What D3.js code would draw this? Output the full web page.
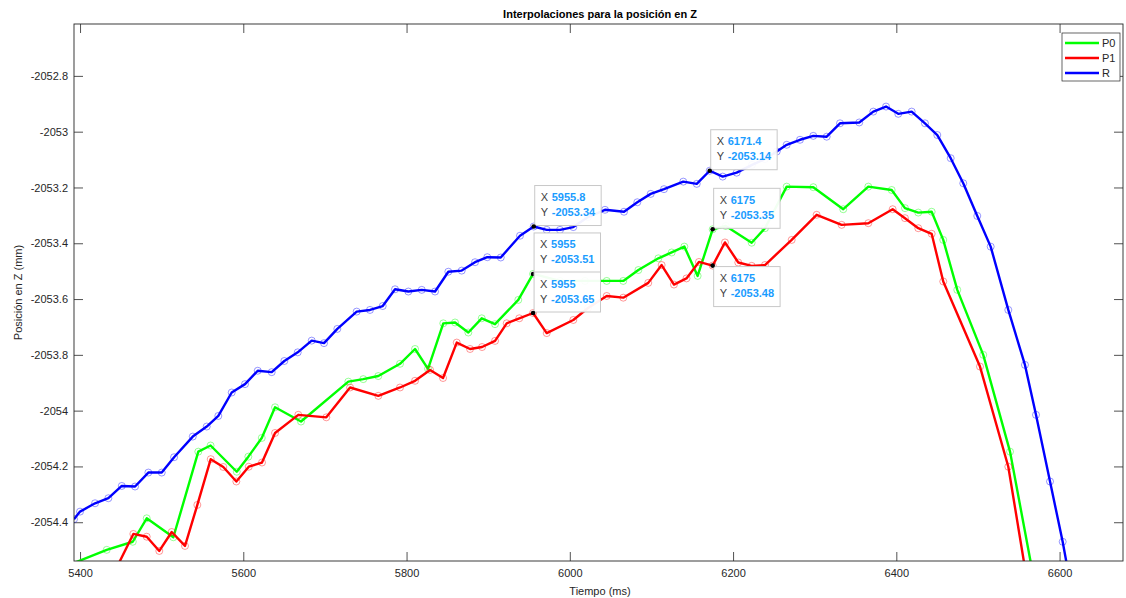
<!DOCTYPE html>
<html>
<head>
<meta charset="utf-8">
<script src="https://cdn.jsdelivr.net/npm/d3@7"></script>
<style>
  html, body { margin: 0; padding: 0; background: #fff; }
  svg { display: block; font-family: "Liberation Sans", Arial, Helvetica, sans-serif; }
</style>
</head>
<body>
<svg id="chart" width="1126" height="598"></svg>
<script>
// ---------------- data ----------------
const titleText = "Interpolaciones para la posición en Z";
const xLabelText = "Tiempo (ms)";
const yLabelText = "Posición en Z (mm)";

const xTicks = [5400, 5600, 5800, 6000, 6200, 6400, 6600];
const xTickLabels = ["5400", "5600", "5800", "6000", "6200", "6400", "6600"];
const yTicks = [-2054.4, -2054.2, -2054, -2053.8, -2053.6, -2053.4, -2053.2, -2053, -2052.8];
const yTickLabels = ["-2054.4", "-2054.2", "-2054", "-2053.8", "-2053.6", "-2053.4", "-2053.2", "-2053", "-2052.8"];

const xDomain = [5392.6, 6677.7];
const yDomain = [-2054.539, -2052.614];

const seriesNames = ["P0", "P1", "R"];

// P0 (green): [tiempo, z]
const seriesP0 = [
  [5375.5,-2054.566],[5432.7,-2054.499],[5464.6,-2054.470],[5481.7,-2054.386],[5514.3,-2054.454],
  [5544.9,-2054.147],[5559.9,-2054.125],[5592.0,-2054.219],[5606.2,-2054.165],[5622.6,-2054.098],
  [5638.9,-2053.988],[5670.7,-2054.039],[5728.7,-2053.896],[5747.0,-2053.887],[5765.4,-2053.876],
  [5792.0,-2053.832],[5810.4,-2053.779],[5826.3,-2053.850],[5845.0,-2053.687],[5859.4,-2053.684],
  [5875.7,-2053.720],[5892.1,-2053.669],[5908.4,-2053.690],[5936.9,-2053.603],[5955.0,-2053.510],
  [5988.0,-2053.535],[6018.6,-2053.535],[6045.2,-2053.535],[6065.5,-2053.535],[6084.0,-2053.496],
  [6108.5,-2053.454],[6124.8,-2053.433],[6140.3,-2053.412],[6156.6,-2053.517],[6175.0,-2053.350],
  [6191.0,-2053.338],[6222.8,-2053.398],[6239.1,-2053.346],[6265.7,-2053.197],[6298.3,-2053.199],
  [6335.0,-2053.278],[6365.7,-2053.197],[6394.3,-2053.209],[6410.6,-2053.274],[6426.9,-2053.290],
  [6443.3,-2053.287],[6457.5,-2053.388],[6474.7,-2053.567],[6506.5,-2053.800],[6539.3,-2054.147],
  [6568.7,-2054.607]
];

// P1 (red)
const seriesP1 = [
  [5439.2,-2054.596],[5465.3,-2054.442],[5481.7,-2054.452],[5497.1,-2054.503],[5512.3,-2054.435],
  [5528.6,-2054.485],[5543.7,-2054.338],[5560.1,-2054.174],[5575.5,-2054.202],[5591.5,-2054.254],
  [5606.7,-2054.201],[5622.9,-2054.186],[5638.9,-2054.080],[5667.4,-2054.015],[5701.7,-2054.024],
  [5730.8,-2053.917],[5765.4,-2053.947],[5792.0,-2053.917],[5810.4,-2053.893],[5828.8,-2053.854],
  [5844.7,-2053.883],[5861.5,-2053.756],[5877.8,-2053.779],[5892.5,-2053.772],[5908.4,-2053.750],
  [5922.7,-2053.687],[5938.1,-2053.669],[5955.0,-2053.650],[5971.7,-2053.722],[6004.3,-2053.675],
  [6022.3,-2053.632],[6045.2,-2053.589],[6065.5,-2053.595],[6096.1,-2053.542],[6112.5,-2053.478],
  [6127.6,-2053.548],[6142.9,-2053.526],[6158.2,-2053.467],[6175.0,-2053.480],[6190.1,-2053.397],
  [6206.4,-2053.469],[6222.8,-2053.481],[6239.1,-2053.478],[6271.8,-2053.388],[6302.4,-2053.298],
  [6333.0,-2053.334],[6365.7,-2053.328],[6395.5,-2053.278],[6410.6,-2053.310],[6426.9,-2053.346],
  [6443.3,-2053.366],[6457.5,-2053.537],[6502.5,-2053.842],[6537.2,-2054.201],[6560.0,-2054.607]
];

// R (blue)
const seriesR = [
  [5392.6,-2054.389],[5400.0,-2054.362],[5418.4,-2054.332],[5434.7,-2054.314],[5451.1,-2054.270],
  [5467.4,-2054.272],[5483.7,-2054.222],[5500.1,-2054.222],[5515.2,-2054.167],[5538.1,-2054.093],
  [5555.2,-2054.057],[5569.4,-2054.019],[5585.8,-2053.935],[5602.1,-2053.905],[5617.7,-2053.857],
  [5634.8,-2053.862],[5650.3,-2053.822],[5666.7,-2053.791],[5683.8,-2053.749],[5698.9,-2053.758],
  [5715.2,-2053.707],[5738.9,-2053.645],[5755.2,-2053.639],[5770.8,-2053.625],[5785.9,-2053.565],
  [5802.2,-2053.573],[5818.6,-2053.567],[5834.9,-2053.573],[5851.2,-2053.502],[5867.6,-2053.498],
  [5883.9,-2053.468],[5898.9,-2053.450],[5915.4,-2053.451],[5939.0,-2053.373],[5955.8,-2053.340],
  [5971.7,-2053.352],[5988.0,-2053.352],[6004.3,-2053.342],[6022.3,-2053.306],[6043.1,-2053.280],
  [6066.4,-2053.287],[6082.7,-2053.253],[6099.1,-2053.223],[6115.4,-2053.206],[6139.0,-2053.179],
  [6155.5,-2053.187],[6171.4,-2053.140],[6187.3,-2053.161],[6204.4,-2053.147],[6223.2,-2053.119],
  [6239.1,-2053.098],[6253.5,-2053.071],[6265.7,-2053.047],[6282.0,-2053.029],[6298.3,-2053.015],
  [6314.7,-2053.018],[6331.0,-2052.970],[6354.6,-2052.967],[6371.8,-2052.928],[6387.4,-2052.910],
  [6402.4,-2052.936],[6418.8,-2052.928],[6435.1,-2052.970],[6450.2,-2053.012],[6466.6,-2053.095],
  [6482.0,-2053.185],[6499.2,-2053.302],[6515.6,-2053.412],[6537.2,-2053.639],[6557.6,-2053.836],
  [6571.1,-2054.015],[6588.3,-2054.254],[6603.8,-2054.470],[6619.0,-2054.714]
];

// data tips: x, y, text shown
const tipX = [5955.8, 5955, 5955, 6171.4, 6175, 6175];
const tipY = [-2053.34, -2053.51, -2053.65, -2053.14, -2053.35, -2053.48];
const tipXText = ["5955.8", "5955", "5955", "6171.4", "6175", "6175"];
const tipYText = ["-2053.34", "-2053.51", "-2053.65", "-2053.14", "-2053.35", "-2053.48"];
const tipSide = ["up", "up", "up", "up", "up", "down"];

// ---------------- drawing ----------------
const colors = { P0: "#00ff00", P1: "#ff0000", R: "#0000ff" };
const allSeries = [
  { name: "P0", data: seriesP0 },
  { name: "P1", data: seriesP1 },
  { name: "R",  data: seriesR }
];

const plot = { left: 74, right: 1123, top: 24, bottom: 561 };
const axisColor = "#262626";
const svg = d3.select("#chart");

const x = d3.scaleLinear().domain(xDomain).range([plot.left, plot.right]);
const y = d3.scaleLinear().domain(yDomain).range([plot.bottom, plot.top]);

svg.append("rect").attr("x", 0).attr("y", 0).attr("width", 1126).attr("height", 598).attr("fill", "#fff");

svg.append("defs").append("clipPath").attr("id", "clip")
  .append("rect")
  .attr("x", plot.left).attr("y", plot.top)
  .attr("width", plot.right - plot.left).attr("height", plot.bottom - plot.top);

// axes
const tickLen = 9;
const xAxisB = d3.axisBottom(x).tickValues(xTicks)
  .tickFormat((d, i) => xTickLabels[i]).tickSizeInner(-tickLen).tickSizeOuter(0).tickPadding(8);
const xAxisT = d3.axisTop(x).tickValues(xTicks).tickFormat("").tickSizeInner(-tickLen).tickSizeOuter(0);
const yAxisL = d3.axisLeft(y).tickValues(yTicks)
  .tickFormat((d, i) => yTickLabels[i]).tickSizeInner(-tickLen).tickSizeOuter(0).tickPadding(6);
const yAxisR = d3.axisRight(y).tickValues(yTicks).tickFormat("").tickSizeInner(-tickLen).tickSizeOuter(0);

function styleAxis(g) {
  g.select(".domain").remove();
  g.selectAll(".tick line").attr("stroke", axisColor).attr("stroke-width", 0.8);
  g.selectAll(".tick text").attr("fill", axisColor).style("font-size", "11px")
    .style("font-family", '"Liberation Sans", Arial, sans-serif');
}

svg.append("g").attr("transform", `translate(0,${plot.bottom})`).call(xAxisB).call(styleAxis);
svg.append("g").attr("transform", `translate(0,${plot.top})`).call(xAxisT).call(styleAxis);
svg.append("g").attr("transform", `translate(${plot.left},0)`).call(yAxisL).call(styleAxis);
svg.append("g").attr("transform", `translate(${plot.right},0)`).call(yAxisR).call(styleAxis);

// lines and markers
const line = d3.line().x(d => x(d[0])).y(d => y(d[1]));
const gLines = svg.append("g").attr("clip-path", "url(#clip)");
allSeries.forEach(s => {
  gLines.append("path")
    .datum(s.data)
    .attr("d", line)
    .attr("fill", "none")
    .attr("stroke", colors[s.name])
    .attr("stroke-width", 2.4)
    .attr("stroke-linejoin", "round");
  gLines.selectAll(null)
    .data(s.data)
    .enter().append("circle")
    .attr("cx", d => x(d[0]))
    .attr("cy", d => y(d[1]))
    .attr("r", 3.5)
    .attr("fill", "none")
    .attr("stroke", colors[s.name])
    .attr("stroke-opacity", 0.45)
    .attr("stroke-width", 0.9);
});

// box
svg.append("rect")
  .attr("x", plot.left).attr("y", plot.top)
  .attr("width", plot.right - plot.left).attr("height", plot.bottom - plot.top)
  .attr("fill", "none").attr("stroke", axisColor).attr("stroke-width", 0.9);

// data tips
const gTips = svg.append("g");
tipX.forEach((tx, i) => {
  const px = x(tx), py = y(tipY[i]);
  const g = gTips.append("g");
  const h = 40;
  const bx = px + 1;
  const by = tipSide[i] === "up" ? py - 1 - h : py + 1;
  const rect = g.append("rect").attr("x", bx).attr("y", by).attr("height", h)
    .attr("fill", "#ffffff").attr("fill-opacity", 0.95)
    .attr("stroke", "#c8c8c8").attr("stroke-width", 1);
  const lines = [["X", tipXText[i]], ["Y", tipYText[i]]];
  let maxW = 0;
  lines.forEach((ln, j) => {
    const t = g.append("text").attr("x", bx + 6).attr("y", by + 15.5 + j * 15)
      .style("font-size", "11px");
    t.append("tspan").attr("fill", "#404040").text(ln[0]);
    const v = g.append("text").attr("x", bx + 17).attr("y", by + 15.5 + j * 15)
      .style("font-size", "11px").style("font-weight", "bold").attr("fill", "#1a9cff").text(ln[1]);
    maxW = Math.max(maxW, v.node().getComputedTextLength());
  });
  rect.attr("width", 17 + maxW + 6);
  g.append("circle").attr("cx", px).attr("cy", py).attr("r", 2.3).attr("fill", "#000");
});

// title and labels
svg.append("text").attr("x", 600).attr("y", 18).attr("text-anchor", "middle")
  .style("font-size", "11px").style("font-weight", "bold").attr("fill", "#000").text(titleText);
svg.append("text").attr("x", 600).attr("y", 595).attr("text-anchor", "middle")
  .style("font-size", "11px").attr("fill", axisColor).text(xLabelText);
svg.append("text").attr("transform", `translate(22,${(plot.top + plot.bottom) / 2}) rotate(-90)`)
  .attr("text-anchor", "middle").style("font-size", "11px").attr("fill", axisColor).text(yLabelText);

// legend
const leg = svg.append("g");
const legX = 1062, legY = 33, legW = 58, legH = 48;
leg.append("rect").attr("x", legX).attr("y", legY).attr("width", legW).attr("height", legH)
  .attr("fill", "#fff").attr("stroke", axisColor).attr("stroke-width", 0.7);
seriesNames.forEach((n, i) => {
  const ly = legY + 10 + i * 15;
  leg.append("line").attr("x1", legX + 3).attr("x2", legX + 37).attr("y1", ly).attr("y2", ly)
    .attr("stroke", colors[n]).attr("stroke-width", 2.4);
  leg.append("text").attr("x", legX + 40).attr("y", ly + 4).style("font-size", "11px")
    .attr("fill", axisColor).text(n);
});
</script>
</body>
</html>
